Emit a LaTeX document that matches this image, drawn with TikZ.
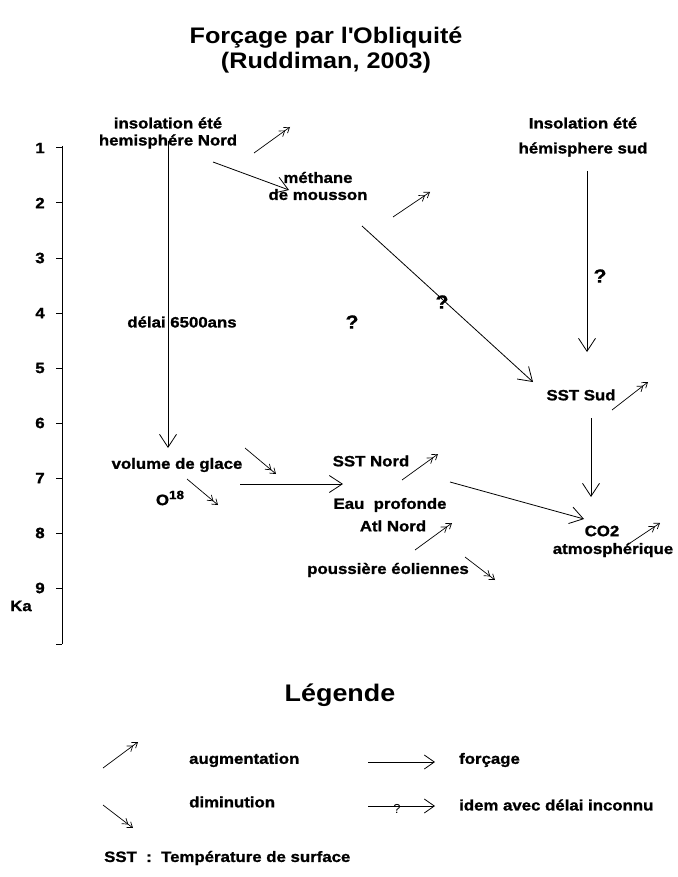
\documentclass[tikz,border=0pt]{standalone}
\usepackage{fontspec}
\setmainfont{Liberation Sans}
\newfontfamily\bodyf[FakeStretch=1.12,FakeBold=1.2]{Liberation Sans}
\newfontfamily\titlef[FakeStretch=1.12]{Liberation Sans}
\usetikzlibrary{arrows.meta}
\begin{document}
\begin{tikzpicture}[x=1pt,y=-1pt,
  lbl/.style={font=\bodyf\bfseries\fontsize{15}{18}\selectfont, inner sep=0pt, align=center},
  ttl/.style={font=\titlef\bfseries\fontsize{22.5}{25}\selectfont, inner sep=0pt, align=center},
  leg/.style={font=\titlef\bfseries\fontsize{24}{28}\selectfont, inner sep=0pt},
  qm/.style={font=\bodyf\bfseries\fontsize{19}{20}\selectfont, inner sep=0pt},
  force/.style={-{Straight Barb[length=13pt,width=17pt,line width=0.8pt]}, line width=0.8pt},
  trend/.style={-{Straight Barb[length=5pt,width=7pt,line width=0.7pt] Straight Barb[length=5pt,width=7pt,line width=0.7pt]}, line width=0.7pt},
  axis/.style={line width=1pt}]
\useasboundingbox (0,0) rectangle (677,877);

% title
\node[ttl] (t1) at (326,38) {Forçage par l\textquotesingle Obliquité};
\node[ttl] (t2) at (326,63) {(Ruddiman, 2003)};

% time axis
\coordinate (ax0) at (62,146);
\coordinate (ax1) at (62,644);
\draw[axis] (ax0) -- (ax1);
\foreach \i/\y in {1/148,2/203,3/258,4/313,5/368,6/423,7/478,8/533,9/588}{
  \coordinate (tk\i) at (62,\y);
  \draw[axis] (tk\i) -- ++(-6,0);
  \node[lbl] (n\i) at (40,\y) {\i};
}
\coordinate (tk10) at (62,644);
\draw[axis] (tk10) -- ++(-6,0);
\node[lbl] (ka) at (21,606) {Ka};

% nodes
\node[lbl] (insN) at (168,133) {insolation été\\[-1pt]hemisphére Nord};
\node[lbl] (delai) at (182,322) {délai 6500ans};
\node[lbl] (meth) at (318,186) {méthane\\[-1pt]de mousson};
\node[lbl] (insS) at (583,137) {Insolation été\\[7pt]hémisphere sud};
\node[lbl] (sstS) at (581,395) {SST Sud};
\node[lbl] (vol) at (177,465) {volume de glace};
\node[lbl] (o18) at (170,498) {O\raisebox{6pt}{\fontsize{12}{12}\selectfont 18}};
\node[lbl] (sstN) at (371,461) {SST Nord};
\node[lbl] (eau) at (390,505) {Eau\ \ profonde};
\node[lbl] (atl) at (393,526) {Atl Nord};
\node[lbl] (co2) at (602,531) {CO2};
\node[lbl] (atm) at (613,550) {atmosphérique};
\node[lbl] (pous) at (388,570) {poussière éoliennes};
\node[qm] (q1) at (352,322) {?};
\node[qm] (q2) at (442,302) {?};
\node[qm] (q3) at (600,276) {?};

% forcing arrows
\coordinate (a1s) at (168,141);
\coordinate (a1e) at (168,448);
\draw[force] (a1s) -- (a1e);
\coordinate (a2s) at (213,162);
\coordinate (a2e) at (289,190);
\draw[force] (a2s) -- (a2e);
\coordinate (a3s) at (362,226);
\coordinate (a3e) at (533,382);
\draw[force] (a3s) -- (a3e);
\coordinate (a4s) at (587,171);
\coordinate (a4e) at (587,352);
\draw[force] (a4s) -- (a4e);
\coordinate (a5s) at (591,418);
\coordinate (a5e) at (591,497);
\draw[force] (a5s) -- (a5e);
\coordinate (a6s) at (240,484);
\coordinate (a6e) at (343,484);
\draw[force] (a6s) -- (a6e);
\coordinate (a7s) at (450,482);
\coordinate (a7e) at (584,519);
\draw[force] (a7s) -- (a7e);

% trend arrows
\coordinate (u1s) at (254,153); \coordinate (u1e) at (290,127);
\draw[trend] (u1s) -- (u1e);
\coordinate (u2s) at (393,217); \coordinate (u2e) at (430,192);
\draw[trend] (u2s) -- (u2e);
\coordinate (u3s) at (612,410); \coordinate (u3e) at (648,382);
\draw[trend] (u3s) -- (u3e);
\coordinate (u4s) at (402,480); \coordinate (u4e) at (438,454);
\draw[trend] (u4s) -- (u4e);
\coordinate (u5s) at (415,550); \coordinate (u5e) at (452,523);
\draw[trend] (u5s) -- (u5e);
\coordinate (u6s) at (630,543); \coordinate (u6e) at (660,523);
\draw[trend] (u6s) -- (u6e);
\coordinate (d1s) at (245,448); \coordinate (d1e) at (276,474);
\draw[trend] (d1s) -- (d1e);
\coordinate (d2s) at (187,479); \coordinate (d2e) at (218,505);
\draw[trend] (d2s) -- (d2e);
\coordinate (d3s) at (465,557); \coordinate (d3e) at (495,580);
\draw[trend] (d3s) -- (d3e);

% legend
\node[leg] (legT) at (340,695) {Légende};
\coordinate (lu1) at (103,768); \coordinate (lu2) at (138,742);
\draw[trend] (lu1) -- (lu2);
\node[lbl, anchor=west] (aug) at (189,760) {augmentation};
\coordinate (ld1) at (103,805); \coordinate (ld2) at (133,828);
\draw[trend] (ld1) -- (ld2);
\node[lbl, anchor=west] (dim) at (189,802) {diminution};
\coordinate (lf1) at (368,762); \coordinate (lf2) at (435,762);
\draw[force, -{Straight Barb[length=10pt,width=14pt,line width=0.8pt]}] (lf1) -- (lf2);
\node[lbl, anchor=west] (forc) at (459,760) {forçage};
\coordinate (lq1) at (368,806); \coordinate (lq2) at (435,806);
\draw[force, -{Straight Barb[length=10pt,width=14pt,line width=0.8pt]}] (lq1) -- (lq2);
\node[font=\fontsize{13}{13}\selectfont, inner sep=0pt] (lq) at (397,809) {?};
\node[lbl, anchor=west] (idem) at (459,805) {idem avec délai inconnu};
\node[lbl, anchor=west] (sst) at (104,858) {SST\ \ :\ \ Température de surface};
\end{tikzpicture}
\end{document}
